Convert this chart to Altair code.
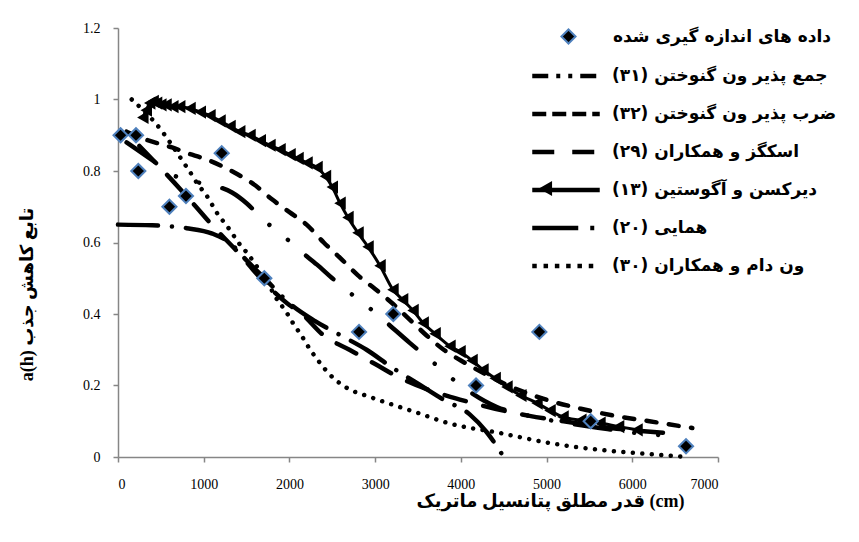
import altair as alt
import pandas as pd

RLM = "\u200f"
MEAS = "داده های اندازه گیری شده"
S31 = "جمع پذیر ون گنوختن (۳۱)" + RLM
S32 = "ضرب پذیر ون گنوختن (۳۲)" + RLM
S29 = "اسکگز و همکاران (۲۹)" + RLM
S13 = "دیرکسن و آگوستین (۱۳)" + RLM
S20 = "همایی (۲۰)" + RLM
S30 = "ون دام و همکاران (۳۰)" + RLM
names = [S31, S32, S29, S13, S20, S30]

x_title = "قدر مطلق پتانسیل ماتریک (cm)" + RLM
y_title = "a(h) تابع کاهش جذب"

# measured data
meas_x = [30, 210, 237, 600, 793, 1210, 1707, 2812, 3212, 4177, 4916, 5515, 6627]
meas_y = [0.90, 0.90, 0.80, 0.70, 0.73, 0.85, 0.50, 0.35, 0.40, 0.20, 0.35, 0.10, 0.03]

# Dirksen & Augustijn (13)
x13 = [290, 330, 370, 410, 450, 500, 560, 640, 720, 840, 960, 1073, 1190, 1307, 1420, 1540, 1660,
       1773, 1890, 2007, 2100, 2205, 2322, 2420, 2500, 2590, 2683, 2800, 2917, 3057, 3208, 3320,
       3442, 3560, 3699, 3873, 3990, 4130, 4258, 4400, 4538, 4700, 4888, 5040, 5192, 5400, 5623,
       5840, 6055]
y13 = [0.95, 0.97, 0.99, 0.995, 0.99, 0.985, 0.985, 0.98, 0.98, 0.975, 0.965, 0.955, 0.94, 0.925,
       0.91, 0.90, 0.885, 0.872, 0.86, 0.846, 0.835, 0.823, 0.81, 0.785, 0.755, 0.71, 0.67, 0.627,
       0.588, 0.535, 0.468, 0.44, 0.41, 0.375, 0.345, 0.31, 0.295, 0.27, 0.244, 0.22, 0.196, 0.172,
       0.151, 0.13, 0.112, 0.103, 0.095, 0.085, 0.076]

# van Dam (30)
x30 = [160, 521, 607, 782, 860, 933, 1027, 1097, 1167, 1260, 1342, 1423, 1505, 1600, 1707, 1773,
       1820, 1902, 1983, 2053, 2135, 2205, 2357, 2473, 2672, 2940, 3208, 3465, 3850, 4457, 5040,
       5623, 6207, 6638]
y30 = [1.0, 0.909, 0.88, 0.818, 0.79, 0.762, 0.734, 0.706, 0.678, 0.65, 0.622, 0.594, 0.571, 0.54,
       0.50, 0.476, 0.454, 0.426, 0.398, 0.37, 0.342, 0.314, 0.263, 0.23, 0.193, 0.168, 0.146, 0.126,
       0.095, 0.067, 0.039, 0.02, 0.008, 0.0]

# multiplicative van Genuchten (32)
x32 = [100, 300, 500, 630, 805, 1000, 1200, 1400, 1600, 1800, 2000, 2200, 2400, 2600, 2800, 3000,
       3200, 3400, 3600, 3800, 4000, 4300, 4600, 5000, 5400, 5800, 6200, 6700]
y32 = [0.91, 0.89, 0.875, 0.866, 0.85, 0.835, 0.815, 0.79, 0.76, 0.72, 0.685, 0.65, 0.60, 0.555,
       0.508, 0.47, 0.43, 0.385, 0.34, 0.30, 0.27, 0.23, 0.195, 0.16, 0.135, 0.115, 0.1, 0.081]

# additive van Genuchten (31)
x31 = [100, 400, 630, 900, 1100, 1330, 1500, 1692, 1913, 2123, 2322, 2500, 2707, 2917, 3138, 3400,
       3700, 4000, 4420, 4800, 5180, 5600, 5940, 6400]
y31 = [0.88, 0.83, 0.79, 0.77, 0.76, 0.74, 0.71, 0.664, 0.622, 0.577, 0.538, 0.50, 0.459, 0.42,
       0.375, 0.32, 0.26, 0.2, 0.14, 0.115, 0.097, 0.082, 0.07, 0.06]

# Skaggs et al. (29)
x29 = [250, 570, 910, 1073, 1447, 1575, 1972, 2147, 2400, 2700, 3000, 3300, 3600, 4000, 4400, 4800,
       5200, 5600, 6000, 6400]
y29 = [0.87, 0.79, 0.70, 0.655, 0.56, 0.524, 0.43, 0.40, 0.34, 0.30, 0.26, 0.22, 0.19, 0.16, 0.135,
       0.115, 0.10, 0.085, 0.075, 0.067]

# Homaee (20)
x20 = [0, 400, 800, 1100, 1300, 1500, 1750, 2000, 2300, 2600, 2900, 3200, 3500, 3800, 4100, 4300, 4500]
y20 = [0.65, 0.648, 0.64, 0.625, 0.60, 0.55, 0.49, 0.43, 0.38, 0.34, 0.30, 0.25, 0.205, 0.16, 0.12,
       0.07, 0.0]

series_data = [(S31, x31, y31), (S32, x32, y32), (S29, x29, y29), (S13, x13, y13),
               (S20, x20, y20), (S30, x30, y30)]
rows = []
for name, xs, ys in series_data:
    for i, (a, b) in enumerate(zip(xs, ys)):
        rows.append({"series": name, "x": a, "y": b, "i": i})
lines = pd.DataFrame(rows)
meas = pd.DataFrame({"sm": MEAS, "x": meas_x, "y": meas_y})

LATIN = "Liberation Serif, DejaVu Sans, serif"
PERS = "DejaVu Sans, Liberation Serif, sans-serif"
GREY = "#868686"

common_axis = dict(domainColor=GREY, tickColor=GREY, domainWidth=1.5, tickWidth=1.5, tickSize=5,
                   grid=False, labelFont=LATIN, labelFontSize=14, labelColor="black",
                   titleFont=LATIN, titleFontSize=18, titleFontWeight="bold", titleColor="black")

X = alt.X("x:Q", scale=alt.Scale(domain=[0, 7000], nice=False),
          axis=alt.Axis(values=list(range(0, 7001, 1000)), format="d", labelPadding=15,
                        title=x_title, titleX=432, titleY=44, titleAlign="center",
                        titleBaseline="middle", **common_axis))
Y = alt.Y("y:Q", scale=alt.Scale(domain=[0, 1.2], nice=False),
          axis=alt.Axis(values=[0, 0.2, 0.4, 0.6, 0.8, 1.0, 1.2], format="~g", labelPadding=13,
                        title=y_title, titleX=-91, titleY=266, titleAngle=270, titleAlign="center",
                        titleBaseline="middle", **common_axis))

chart_style = {
    S31: dict(strokeWidth=4.5, strokeDash=[36, 24, 0.01, 24, 0.01, 24]),
    S32: dict(strokeWidth=4.5, strokeDash=[10, 12.5]),
    S29: dict(strokeWidth=4.5, strokeDash=[22, 18]),
    S13: dict(strokeWidth=3),
    S20: dict(strokeWidth=4.5, strokeDash=[40, 14, 0.01, 14]),
    S30: dict(strokeWidth=4.5, strokeDash=[0.01, 9.5]),
}
legend_dash = [[16, 8, 4, 8, 4, 8], [14, 6], [22, 18], [1, 0], [46, 12, 4, 20], [4.5, 6.8]]

legend_common = dict(title=None, orient="none", padding=0, labelFont=PERS, labelFontSize=17,
                     labelFontWeight="bold", labelColor="black", labelLimit=400)

layers = []
for name in [S30, S20, S29, S31, S32, S13]:
    layers.append(
        alt.Chart(lines).transform_filter(alt.datum.series == name)
        .mark_line(color="black", strokeCap="round", interpolate="monotone", **chart_style[name])
        .encode(x=X, y=Y, order="i:Q")
    )

legend_layer = (
    alt.Chart(lines).transform_filter("false")
    .mark_line(color="black")
    .encode(x=X, y=Y,
            strokeDash=alt.StrokeDash("series:N",
                                      scale=alt.Scale(domain=names, range=legend_dash),
                                      legend=alt.Legend(legendX=438, legendY=38,
                                                        symbolType="M-4.5,0H4.5", symbolSize=225,
                                                        symbolStrokeWidth=4.5,
                                                        symbolStrokeColor="black",
                                                        labelOffset=36, rowPadding=19,
                                                        **legend_common)))
)

tri_layer = (
    alt.Chart(lines).transform_filter(alt.datum.series == S13)
    .mark_point(filled=True, size=175, color="black", opacity=1)
    .encode(x=X, y=Y,
            shape=alt.Shape("series:N", scale=alt.Scale(domain=[S13], range=["triangle-left"]),
                            legend=alt.Legend(legendX=419, legendY=152, symbolSize=230,
                                              symbolFillColor="black", symbolStrokeColor="black",
                                              labelExpr="''", **legend_common)))
)

pts_layer = (
    alt.Chart(meas)
    .mark_point(shape="diamond", filled=True, size=200, stroke="#4f81bd", strokeWidth=2, opacity=1)
    .encode(x=X, y=Y,
            fill=alt.Fill("sm:N", scale=alt.Scale(domain=[MEAS], range=["black"]),
                          legend=alt.Legend(legendX=442, legendY=0, symbolType="diamond",
                                            symbolSize=200, symbolStrokeColor="#4f81bd",
                                            symbolStrokeWidth=2, labelOffset=36, **legend_common)))
)

chart = (
    alt.layer(*layers, legend_layer, tri_layer, pts_layer)
    .properties(width=600, height=429, autosize=alt.AutoSizeParams(type="none"),
                padding={"left": 110, "top": 20, "right": 133, "bottom": 60})
    .configure_view(stroke=None)
)

chart.save("out.html", embed_options={"renderer": "svg", "actions": False})
